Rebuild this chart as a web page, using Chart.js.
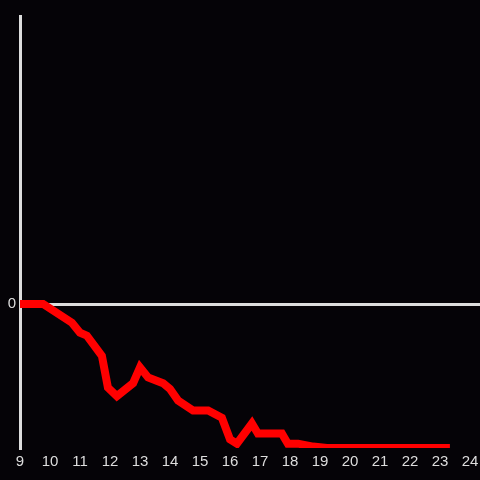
<!DOCTYPE html>
<html>
<head>
<meta charset="utf-8">
<script src="https://cdn.jsdelivr.net/npm/chart.js@4"></script>
<style>
  html, body { margin: 0; padding: 0; background: #050307; }
  #wrap { width: 480px; height: 480px; }
</style>
</head>
<body>
<div id="wrap"><canvas id="chart"></canvas></div>
<script>
const hours  = [9, 9.77, 10.73, 11.0, 11.23, 11.73, 11.93, 12.23, 12.77, 13.0, 13.27, 13.77, 14.0, 14.27, 14.77, 15.27, 15.73, 16.0, 16.23, 16.73, 16.93, 17.73, 17.93, 18.27, 18.77, 19.23, 20, 21, 22, 23.33];
const values = [0, 0, -0.13, -0.2, -0.22, -0.36, -0.58, -0.64, -0.55, -0.44, -0.51, -0.55, -0.59, -0.67, -0.74, -0.74, -0.79, -0.94, -0.97, -0.83, -0.9, -0.9, -0.97, -0.97, -0.99, -1.0, -1.0, -1.0, -1.0, -1.0];
const xTicks = [9, 10, 11, 12, 13, 14, 15, 16, 17, 18, 19, 20, 21, 22, 23, 24];
const yTicks = [0];

const fg = '#dddddd';
const font = { family: 'Liberation Sans', size: 15 };
const points = hours.map((h, i) => ({ x: h, y: values[i] }));

new Chart(document.getElementById('chart'), {
    type: 'line',
    data: {
        datasets: [{
            data: points,
            borderColor: '#ff0000',
            borderWidth: 8,
            pointRadius: 0,
            tension: 0,
            fill: false
        }]
    },
    options: {
        responsive: true,
        maintainAspectRatio: false,
        animation: false,
        layout: { padding: { top: 16, left: 0, right: 0, bottom: 0 } },
        plugins: { legend: { display: false }, tooltip: { enabled: false } },
        scales: {
            x: {
                type: 'linear',
                min: 9,
                max: 24.333,
                afterFit: s => { s.height = 32; s.paddingLeft = 0; s.paddingRight = 0; },
                afterBuildTicks: s => { s.ticks = xTicks.map(v => ({ value: v })); },
                border: { display: false },
                grid: { display: false, drawTicks: false },
                ticks: { color: fg, padding: 5, maxRotation: 0, autoSkip: false, font }
            },
            y: {
                min: -1,
                max: 2,
                afterFit: s => { s.width = 20; s.paddingTop = 0; s.paddingBottom = 0; },
                afterBuildTicks: s => { s.ticks = yTicks.map(v => ({ value: v })); },
                border: { display: true, color: fg, width: 3 },
                grid: { drawTicks: false, lineWidth: 3, color: fg },
                ticks: { color: fg, padding: 4, font }
            }
        }
    }
});
</script>
</body>
</html>
